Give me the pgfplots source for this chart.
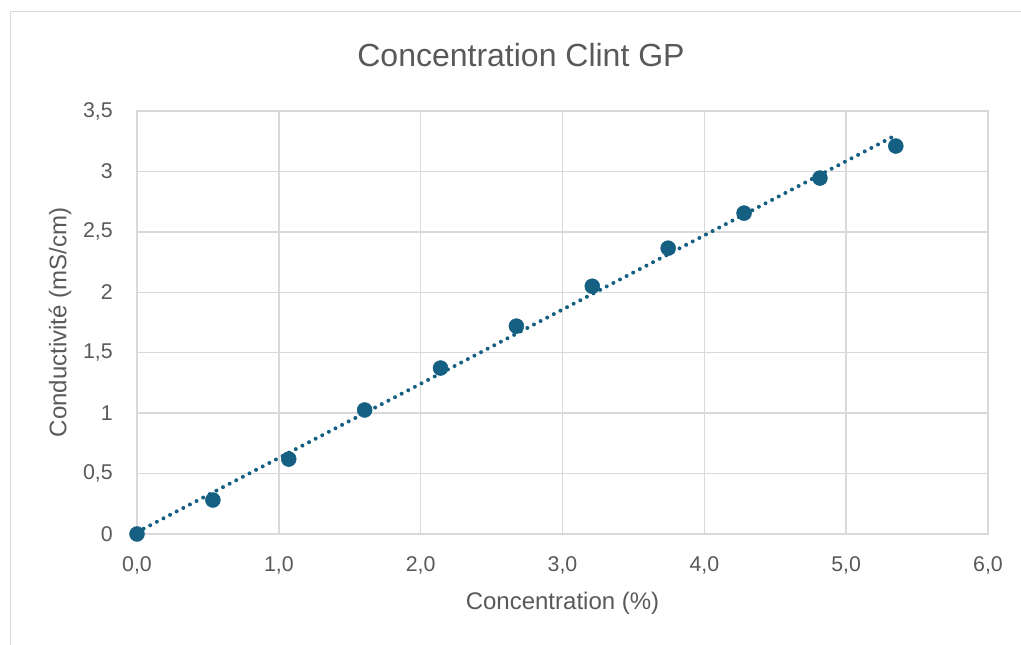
\documentclass[border=0pt]{standalone}
\usepackage{fontspec}
\setmainfont{Liberation Sans}
\usepackage{pgfplots}
\pgfplotsset{compat=1.18}
\definecolor{accent}{HTML}{156082}
\definecolor{gridc}{HTML}{D9D9D9}
\definecolor{txt}{HTML}{595959}
\begin{document}
\begin{tikzpicture}
\path[use as bounding box] (0,0) rectangle (765.75pt,483.75pt);
\draw[gridc, line width=0.75pt] (7.5pt,0) -- (7.5pt,474.75pt) -- (765.75pt,474.75pt);
\node[txt, font=\fontsize{24}{28}\selectfont] at (390.75pt,442.5pt) {Concentration Clint GP};
\begin{axis}[
  at={(102.75pt,83.25pt)}, anchor=south west,
  scale only axis, width=638.25pt, height=317.25pt,
  xmin=0, xmax=6, ymin=0, ymax=3.5,
  xtick={0,1,...,6}, ytick={0,0.5,...,3.5},
  grid=major,
  major grid style={gridc, line width=1.1pt},
  axis line style={gridc, line width=1.1pt},
  major tick length=0pt,
  tick style={draw=none},
  /pgf/number format/assume math mode=true,
  /pgf/number format/use comma,
  xticklabel style={/pgf/number format/fixed, /pgf/number format/fixed zerofill, /pgf/number format/precision=1,
     font=\fontsize{16}{19}\selectfont, text=txt, inner sep=0pt, anchor=north, yshift=-17pt},
  yticklabel style={/pgf/number format/fixed, /pgf/number format/precision=1,
     font=\fontsize{16}{19}\selectfont, text=txt, inner sep=0pt, anchor=east, xshift=-18pt},
  xlabel={Concentration (\%)},
  ylabel={Conductivité (mS/cm)},
  every axis x label/.style={at={(axis description cs:0.5,-0.163)}, anchor=center, font=\fontsize{18}{21}\selectfont, text=txt},
  every axis y label/.style={at={(axis description cs:-0.0905,0.5)}, anchor=center, rotate=90, font=\fontsize{18}{21}\selectfont, text=txt},
  clip=false,
]
\addplot[accent, line width=3pt, line cap=round, dash pattern=on 0pt off 5.6pt] coordinates {(0,0.015) (5.35,3.30)};
\addplot[only marks, mark=*, mark size=5.6pt, mark options={fill=accent, draw=accent}] coordinates {
(0,0) (0.535,0.281) (1.07,0.62) (1.605,1.026) (2.14,1.373) (2.675,1.72)
(3.21,2.05) (3.745,2.365) (4.28,2.655) (4.815,2.945) (5.35,3.21)};
\end{axis}
\end{tikzpicture}
\end{document}
